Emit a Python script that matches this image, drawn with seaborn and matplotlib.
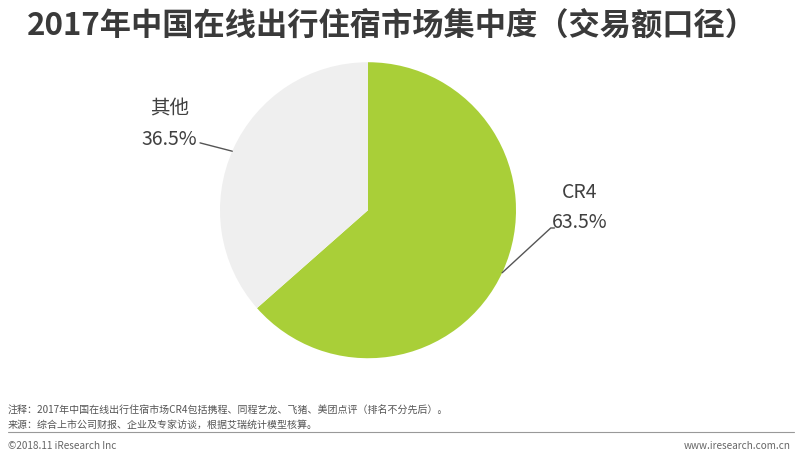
import matplotlib
matplotlib.use("Agg")
import numpy as np
import matplotlib.pyplot as plt
import seaborn as sns

# data
labels = ["CR4", "其他"]
shares = [63.5, 36.5]
colors = ["#A9CF38", "#EFEFEF"]

title = "2017年中国在线出行住宿市场集中度（交易额口径）"
note = "注释：2017年中国在线出行住宿市场CR4包括携程、同程艺龙、飞猪、美团点评（排名不分先后）。"
source = "来源：综合上市公司财报、企业及专家访谈，根据艾瑞统计模型核算。"

sns.set_theme(style="white")
plt.rcParams["font.family"] = ["Noto Sans CJK SC", "DejaVu Sans"]

fig = plt.figure(figsize=(8, 4.58), dpi=100)
ax = fig.add_axes([0.46 - 0.185, 0.541 - 0.3232, 0.37, 0.6464])

wedges, _ = ax.pie(shares, colors=colors, startangle=90, counterclock=False,
                   wedgeprops=dict(linewidth=0))
ax.set_aspect("equal")
ax.set_xlim(-1, 1)
ax.set_ylim(-1, 1)

txt = "#404040"
line_c = "#555555"

# CR4 label + leader line
ax.text(1.43, 0.02, f"{labels[0]}\n{shares[0]}%", fontsize=14, color=txt,
        ha="center", va="center", linespacing=1.55, multialignment="center")
a = np.deg2rad(-25)
ax.plot([np.cos(a), 1.235, 1.26], [np.sin(a), -0.12, -0.12], color=line_c, lw=1,
        clip_on=False)

# 其他 label + leader line
ax.text(-1.34, 0.58, f"{labels[1]}\n{shares[1]}%", fontsize=14, color=txt,
        ha="center", va="center", linespacing=1.55, multialignment="center")
a = np.deg2rad(156.5)
ax.plot([-1.135, np.cos(a)], [0.455, np.sin(a)], color=line_c, lw=1, clip_on=False)

fig.text(0.49, 0.945, title, fontsize=22.5, fontweight="bold", color="#3a3a3a",
         ha="center", va="center")

fig.text(0.01, 0.104, note, fontsize=7.2, color="#555555", va="center")
fig.text(0.01, 0.073, source, fontsize=7.2, color="#555555", va="center")
fig.add_artist(plt.Line2D([0.01, 0.993], [0.057, 0.057], color="#999999", lw=0.8))
fig.text(0.01, 0.027, "©2018.11 iResearch Inc", fontsize=7.2, color="#666666", va="center")
fig.text(0.988, 0.027, "www.iresearch.com.cn", fontsize=7.2, color="#666666",
         va="center", ha="right")

fig.savefig("out.png", dpi=100)
